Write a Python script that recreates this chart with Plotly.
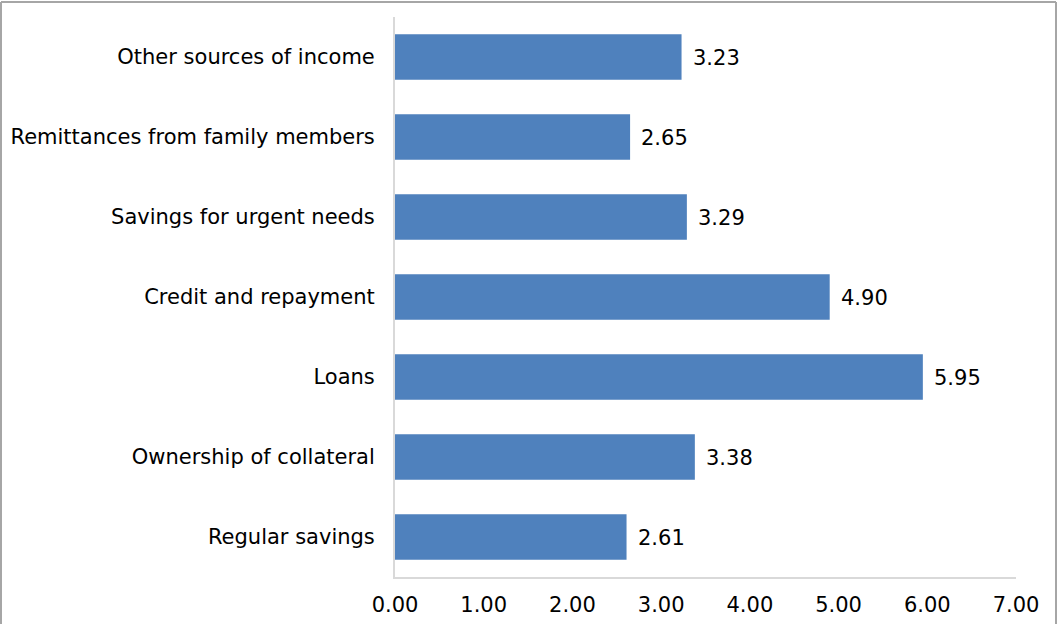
import plotly.graph_objects as go

# Categories listed bottom to top
categories = [
    "Regular savings",
    "Ownership of collateral",
    "Loans",
    "Credit and repayment",
    "Savings for urgent needs",
    "Remittances from family members",
    "Other sources of income",
]
values = [2.61, 3.38, 5.95, 4.90, 3.29, 2.65, 3.23]
x_ticks = [0, 1, 2, 3, 4, 5, 6, 7]
x_tick_labels = [f"{v:.2f}" for v in x_ticks]

FONT = "Verdana, DejaVu Sans, sans-serif"
FSIZE = 21
BAR_COLOR = "#4F81BD"
AXIS_COLOR = "#D9D9D9"

W, H = 1057, 624
L, R, T, B = 395, 41, 17, 47
pw, ph = W - L - R, H - T - B

fig = go.Figure(
    go.Bar(
        x=values,
        y=categories,
        orientation="h",
        marker=dict(color=BAR_COLOR, line=dict(width=0)),
        hoverinfo="x+y",
    )
)

# value labels just past the end of each bar
for cat, v in zip(categories, values):
    fig.add_annotation(
        x=v, y=cat, xref="x", yref="y",
        text=f"{v:.2f}", showarrow=False,
        xanchor="left", yanchor="middle", xshift=9, yshift=-1,
        font=dict(family=FONT, size=FSIZE, color="#000000"),
    )

# outer chart frame (top, left, right edges)
x0 = (1 - L) / pw
x1 = (1056 - L) / pw
y_top = (H - B - 2) / ph
y_bot = (H - B - 630) / ph
frame = dict(color="#A6A6A6", width=2)
fig.add_shape(type="line", xref="paper", yref="paper", x0=x0, x1=x1, y0=y_top, y1=y_top, line=frame)
fig.add_shape(type="line", xref="paper", yref="paper", x0=x0, x1=x0, y0=y_bot, y1=y_top, line=frame)
fig.add_shape(type="line", xref="paper", yref="paper", x0=x1, x1=x1, y0=y_bot, y1=y_top, line=frame)

fig.update_layout(
    width=W,
    height=H,
    margin=dict(l=L, r=R, t=T, b=B, pad=0, autoexpand=False),
    plot_bgcolor="#FFFFFF",
    paper_bgcolor="#FFFFFF",
    bargap=0.43,
    showlegend=False,
    font=dict(family=FONT, size=FSIZE, color="#000000"),
    xaxis=dict(
        range=[0, 7],
        tickvals=x_ticks,
        ticktext=x_tick_labels,
        showgrid=False,
        zeroline=False,
        showline=True,
        linecolor=AXIS_COLOR,
        linewidth=2,
        ticks="outside",
        ticklen=8,
        tickcolor="rgba(0,0,0,0)",
        tickfont=dict(family=FONT, size=FSIZE, color="#000000"),
        automargin=False,
    ),
    yaxis=dict(
        categoryorder="array",
        categoryarray=categories,
        showgrid=False,
        zeroline=False,
        showline=True,
        linecolor=AXIS_COLOR,
        linewidth=2,
        ticks="outside",
        ticklen=14,
        tickcolor="rgba(0,0,0,0)",
        tickfont=dict(family=FONT, size=FSIZE, color="#000000"),
        automargin=False,
    ),
)

fig.write_html("out.html")
